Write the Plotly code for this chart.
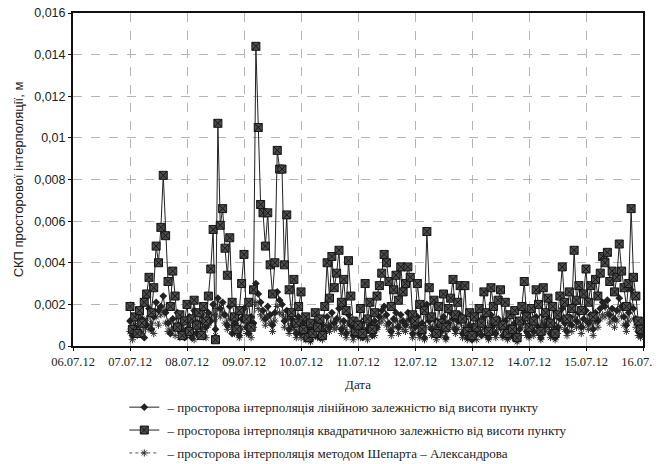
import pandas as pd
import plotly.graph_objects as go

# hourly sampling, from 07.07.12 00:00 to 15.07.12 23:00 (one row per day below)
times = pd.date_range("2012-07-07 00:00", periods=216, freq="h")

# СКП (m)
linear = [
    0.0012, 0.0005, 0.0009, 0.0015, 0.0007, 0.0013, 0.0004, 0.0010, 0.0018, 0.0008, 0.0014, 0.0021, 0.0017, 0.0019, 0.0024, 0.0016, 0.0011, 0.0006, 0.0013, 0.0009, 0.0016, 0.0007, 0.0011, 0.0004,
    0.0008, 0.0014, 0.0004, 0.0017, 0.0006, 0.0011, 0.0015, 0.0005, 0.0009, 0.0016, 0.0012, 0.0020, 0.0008, 0.0023, 0.0018, 0.0021, 0.0015, 0.0010, 0.0019, 0.0006, 0.0011, 0.0015, 0.0005, 0.0013,
    0.0018, 0.0009, 0.0006, 0.0014, 0.0011, 0.0030, 0.0025, 0.0021, 0.0017, 0.0013, 0.0019, 0.0015, 0.0010, 0.0016, 0.0026, 0.0022, 0.0020, 0.0012, 0.0017, 0.0008, 0.0013, 0.0010, 0.0006, 0.0014,
    0.0006, 0.0011, 0.0004, 0.0009, 0.0003, 0.0008, 0.0005, 0.0012, 0.0004, 0.0010, 0.0007, 0.0014, 0.0009, 0.0016, 0.0011, 0.0013, 0.0018, 0.0008, 0.0012, 0.0006, 0.0015, 0.0010, 0.0005, 0.0009,
    0.0005, 0.0011, 0.0004, 0.0013, 0.0008, 0.0010, 0.0005, 0.0012, 0.0009, 0.0014, 0.0017, 0.0019, 0.0015, 0.0011, 0.0007, 0.0013, 0.0016, 0.0009, 0.0015, 0.0012, 0.0010, 0.0016, 0.0013, 0.0006,
    0.0009, 0.0014, 0.0006, 0.0011, 0.0004, 0.0020, 0.0012, 0.0008, 0.0013, 0.0005, 0.0010, 0.0007, 0.0014, 0.0004, 0.0011, 0.0016, 0.0013, 0.0008, 0.0012, 0.0015, 0.0006, 0.0013, 0.0004, 0.0010,
    0.0003, 0.0009, 0.0006, 0.0012, 0.0005, 0.0014, 0.0008, 0.0004, 0.0015, 0.0010, 0.0006, 0.0013, 0.0011, 0.0005, 0.0012, 0.0004, 0.0009, 0.0005, 0.0011, 0.0003, 0.0008, 0.0012, 0.0016, 0.0007,
    0.0005, 0.0011, 0.0007, 0.0014, 0.0009, 0.0004, 0.0015, 0.0010, 0.0013, 0.0006, 0.0011, 0.0004, 0.0009, 0.0013, 0.0018, 0.0011, 0.0007, 0.0014, 0.0010, 0.0020, 0.0012, 0.0016, 0.0009, 0.0013,
    0.0017, 0.0011, 0.0015, 0.0008, 0.0016, 0.0012, 0.0018, 0.0021, 0.0019, 0.0022, 0.0015, 0.0018, 0.0013, 0.0017, 0.0023, 0.0019, 0.0014, 0.0010, 0.0016, 0.0027, 0.0018, 0.0013, 0.0007, 0.0005,
]

quadratic = [
    0.0019, 0.0008, 0.0014, 0.0006, 0.0017, 0.0011, 0.0021, 0.0025, 0.0033, 0.0016, 0.0028, 0.0048, 0.0040, 0.0057, 0.0082, 0.0053, 0.0031, 0.0019, 0.0036, 0.0024, 0.0009, 0.0015, 0.0005, 0.0012,
    0.0020, 0.0007, 0.0013, 0.0022, 0.0010, 0.0016, 0.0005, 0.0019, 0.0012, 0.0024, 0.0037, 0.0056, 0.0003, 0.0107, 0.0058, 0.0066, 0.0047, 0.0034, 0.0052, 0.0021, 0.0014, 0.0008, 0.0017, 0.0030,
    0.0044, 0.0013, 0.0021, 0.0009, 0.0027, 0.0144, 0.0105, 0.0068, 0.0064, 0.0048, 0.0064, 0.0039, 0.0025, 0.0040, 0.0094, 0.0085, 0.0085, 0.0039, 0.0063, 0.0027, 0.0016, 0.0032, 0.0011, 0.0019,
    0.0026, 0.0008, 0.0014, 0.0004, 0.0011, 0.0006, 0.0016, 0.0009, 0.0013, 0.0005, 0.0019, 0.0040, 0.0023, 0.0043, 0.0028, 0.0035, 0.0046, 0.0021, 0.0032, 0.0017, 0.0041, 0.0024, 0.0012, 0.0007,
    0.0010, 0.0018, 0.0006, 0.0030, 0.0013, 0.0021, 0.0008, 0.0016, 0.0024, 0.0029, 0.0035, 0.0044, 0.0040, 0.0031, 0.0019, 0.0027, 0.0034, 0.0022, 0.0038, 0.0026, 0.0030, 0.0038, 0.0033, 0.0015,
    0.0012, 0.0030, 0.0020, 0.0008, 0.0017, 0.0055, 0.0028, 0.0014, 0.0022, 0.0006, 0.0019, 0.0011, 0.0025, 0.0009, 0.0018, 0.0023, 0.0032, 0.0015, 0.0021, 0.0029, 0.0013, 0.0029, 0.0007, 0.0016,
    0.0005, 0.0014, 0.0009, 0.0018, 0.0011, 0.0026, 0.0016, 0.0007, 0.0028, 0.0019, 0.0012, 0.0022, 0.0027, 0.0010, 0.0021, 0.0006, 0.0015, 0.0008, 0.0017, 0.0004, 0.0012, 0.0019, 0.0031, 0.0014,
    0.0009, 0.0018, 0.0012, 0.0027, 0.0020, 0.0007, 0.0028, 0.0016, 0.0023, 0.0011, 0.0019, 0.0006, 0.0015, 0.0024, 0.0038, 0.0021, 0.0013, 0.0026, 0.0018, 0.0046, 0.0022, 0.0029, 0.0017, 0.0025,
    0.0037, 0.0021, 0.0029, 0.0014, 0.0032, 0.0024, 0.0035, 0.0043, 0.0040, 0.0045, 0.0031, 0.0036, 0.0026, 0.0033, 0.0049, 0.0036, 0.0028, 0.0019, 0.0030, 0.0066, 0.0033, 0.0024, 0.0012, 0.0008,
]

shepard = [
    0.0007, 0.0003, 0.0010, 0.0005, 0.0012, 0.0006, 0.0009, 0.0013, 0.0008, 0.0011, 0.0006, 0.0014, 0.0010, 0.0015, 0.0017, 0.0011, 0.0007, 0.0012, 0.0008, 0.0005, 0.0010, 0.0004, 0.0008, 0.0006,
    0.0005, 0.0009, 0.0007, 0.0003, 0.0011, 0.0006, 0.0008, 0.0012, 0.0004, 0.0010, 0.0013, 0.0015, 0.0005, 0.0018, 0.0014, 0.0016, 0.0011, 0.0008, 0.0013, 0.0009, 0.0006, 0.0010, 0.0004, 0.0008,
    0.0012, 0.0006, 0.0010, 0.0004, 0.0009, 0.0021, 0.0018, 0.0015, 0.0013, 0.0010, 0.0014, 0.0011, 0.0007, 0.0012, 0.0019, 0.0016, 0.0015, 0.0009, 0.0013, 0.0006, 0.0010, 0.0008, 0.0004, 0.0007,
    0.0004, 0.0007, 0.0003, 0.0006, 0.0002, 0.0005, 0.0008, 0.0004, 0.0009, 0.0003, 0.0006, 0.0010, 0.0007, 0.0011, 0.0008, 0.0009, 0.0013, 0.0006, 0.0009, 0.0004, 0.0011, 0.0007, 0.0003, 0.0006,
    0.0008, 0.0004, 0.0009, 0.0006, 0.0003, 0.0007, 0.0010, 0.0005, 0.0008, 0.0011, 0.0012, 0.0014, 0.0010, 0.0008, 0.0005, 0.0009, 0.0012, 0.0006, 0.0011, 0.0008, 0.0007, 0.0012, 0.0009, 0.0004,
    0.0006, 0.0010, 0.0004, 0.0008, 0.0003, 0.0014, 0.0009, 0.0005, 0.0009, 0.0003, 0.0007, 0.0005, 0.0010, 0.0003, 0.0008, 0.0011, 0.0009, 0.0006, 0.0008, 0.0011, 0.0004, 0.0009, 0.0003, 0.0007,
    0.0004, 0.0007, 0.0003, 0.0009, 0.0006, 0.0010, 0.0005, 0.0003, 0.0011, 0.0007, 0.0004, 0.0009, 0.0008, 0.0004, 0.0009, 0.0003, 0.0006, 0.0004, 0.0008, 0.0002, 0.0005, 0.0009, 0.0012, 0.0005,
    0.0004, 0.0008, 0.0005, 0.0010, 0.0006, 0.0003, 0.0011, 0.0007, 0.0009, 0.0004, 0.0008, 0.0003, 0.0006, 0.0009, 0.0013, 0.0008, 0.0005, 0.0010, 0.0007, 0.0014, 0.0009, 0.0011, 0.0006, 0.0009,
    0.0012, 0.0008, 0.0011, 0.0005, 0.0012, 0.0009, 0.0013, 0.0015, 0.0014, 0.0016, 0.0011, 0.0013, 0.0009, 0.0012, 0.0017, 0.0014, 0.0010, 0.0007, 0.0012, 0.0019, 0.0013, 0.0009, 0.0005, 0.0004,
]

names = [
    " – просторова інтерполяція лінійною залежністю від висоти пункту",
    " – просторова інтерполяція квадратичною залежністю від висоти пункту",
    " – просторова інтерполяція методом Шепарта – Александрова",
]

y_ticks = [0, 0.002, 0.004, 0.006, 0.008, 0.01, 0.012, 0.014, 0.016]
y_labels = ["0", "0,002", "0,004", "0,006", "0,008", "0,01", "0,012", "0,014", "0,016"]

fig = go.Figure()

fig.add_trace(go.Scatter(
    x=times, y=shepard, name=names[2], mode="lines+markers",
    legendrank=3, legendgroup="c",
    line=dict(color="#555", width=1, dash="dot"),
    marker=dict(symbol="asterisk", size=6, line=dict(color="#333", width=1))
))
fig.add_trace(go.Scatter(
    x=times, y=linear, name=names[0], mode="lines+markers",
    legendrank=1, legendgroup="a",
    line=dict(color="#222", width=1),
    marker=dict(symbol="diamond", size=6, color="#222")
))
fig.add_trace(go.Scatter(
    x=times, y=quadratic, name=names[1], mode="lines+markers",
    legendrank=2, legendgroup="b",
    line=dict(color="#222", width=1),
    marker=dict(symbol="square-x", size=8, color="#4c4c4c", line=dict(color="#151515", width=1))
))

# the page body adds an offset, so margins are set to land the plot where the reference has it
fig.update_layout(
    width=662, height=464,
    margin=dict(l=65, r=27, t=5, b=126, autoexpand=False),
    paper_bgcolor="white", plot_bgcolor="white",
    showlegend=True,
    legend=dict(
        orientation="v", x=0.09, y=0.172, xanchor="left", yanchor="top",
        xref="paper", yref="container",
        font=dict(family="Liberation Serif", size=13, color="#222"),
        bgcolor="rgba(0,0,0,0)", tracegroupgap=3,
    ),
    xaxis=dict(
        range=["2012-07-06", "2012-07-16"],
        dtick=86400000, tickformat="%d.%m.%y", tick0="2012-07-06",
        showgrid=True, gridcolor="#b5b5b5", griddash="dash", gridwidth=1,
        showline=True, mirror=True, linecolor="#111", linewidth=2,
        ticks="outside", ticklen=3, tickcolor="#111", ticklabeloverflow="allow",
        tickfont=dict(family="Liberation Serif", size=12.5, color="#222"),
        title=dict(text="Дата", font=dict(family="Liberation Serif", size=13, color="#222"), standoff=12),
        zeroline=False,
    ),
    yaxis=dict(
        range=[0, 0.016],
        tickvals=y_ticks, ticktext=y_labels,
        showgrid=True, gridcolor="#b5b5b5", griddash="dash", gridwidth=1,
        showline=True, mirror=True, linecolor="#111", linewidth=2,
        ticks="outside", ticklen=3, tickcolor="#111", ticklabeloverflow="allow",
        tickfont=dict(family="Liberation Sans", size=12.5, color="#222"),
        title=dict(text="СКП просторової інтерполяції, м", font=dict(family="Liberation Sans", size=13, color="#222"), standoff=8),
        zeroline=False,
    ),
)

fig.write_html("out.html")
